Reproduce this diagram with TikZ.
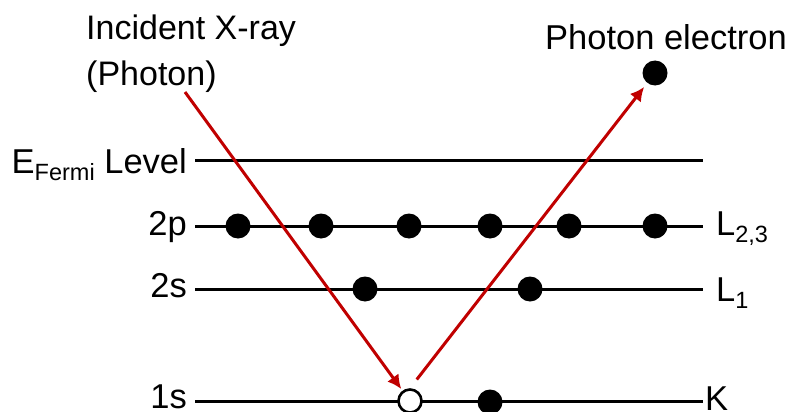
\documentclass[tikz,border=0pt]{standalone}
\usepackage{fontspec}
\setmainfont{Liberation Sans}
\usetikzlibrary{arrows.meta}
\definecolor{raycol}{RGB}{192,0,0}
\newcommand\lowidx[1]{\raisebox{-7pt}{\fontsize{23.5}{24}\selectfont #1}}

\begin{document}
\begin{tikzpicture}[x=1pt, y=-1pt, every node/.style={font=\fontsize{34.5}{40}\selectfont, inner sep=0pt},
	level/.style={line width=3pt},
	electron/.style={circle, fill=black, minimum size=25pt},
	vacancy/.style={circle, draw=black, line width=2.6pt, fill=white, minimum size=23pt},
	ray/.style={draw=raycol, line width=3pt, -{Latex[length=14pt,width=14pt]}}]
	\useasboundingbox (0,0) rectangle (792,412);
	% energy levels
	\draw[level] (195,160) -- (703,160);
	\draw[level] (195,226) -- (703,226);
	\draw[level] (195,289) -- (703,289);
	\draw[level] (195,401) -- (703,401);
	\node[anchor=base east] (fermi) at (187,173) {E\lowidx{Fermi} Level};
	\node[anchor=base east] (p2) at (187,235) {2p};
	\node[anchor=base east] (s2) at (187,297) {2s};
	\node[anchor=base east] (s1) at (187,408) {1s};
	\node[anchor=base west] (l23) at (716,235) {L\lowidx{2,3}};
	\node[anchor=base west] (l1) at (716,301) {L\lowidx{1}};
	\node[anchor=base west] (k) at (705,410) {K};
	% electrons
	\foreach \x in {238,321,409,490,569,655}
		\node[electron] (e2p-\x) at (\x,226) {};
	\foreach \x in {365,530}
		\node[electron] (e2s-\x) at (\x,289) {};
	\node[vacancy] (hole) at (410,401) {};
	\node[electron] (e1s) at (490,402) {};
	\node[electron] (free) at (655,73) {};
	% labels and rays
	\node[anchor=base west, align=left, font=\fontsize{34}{46}\selectfont] (xray) at (86,85) {Incident X-ray\\(Photon)};
	\node[anchor=base] (freelabel) at (666,50) {Photon electron};
	\coordinate (src) at (185,92);
	\draw[ray, shorten >=2pt] (src) -- (hole);
	\draw[ray, shorten <=11pt, shorten >=5pt] (hole.north) -- (free);
\end{tikzpicture}
\end{document}
